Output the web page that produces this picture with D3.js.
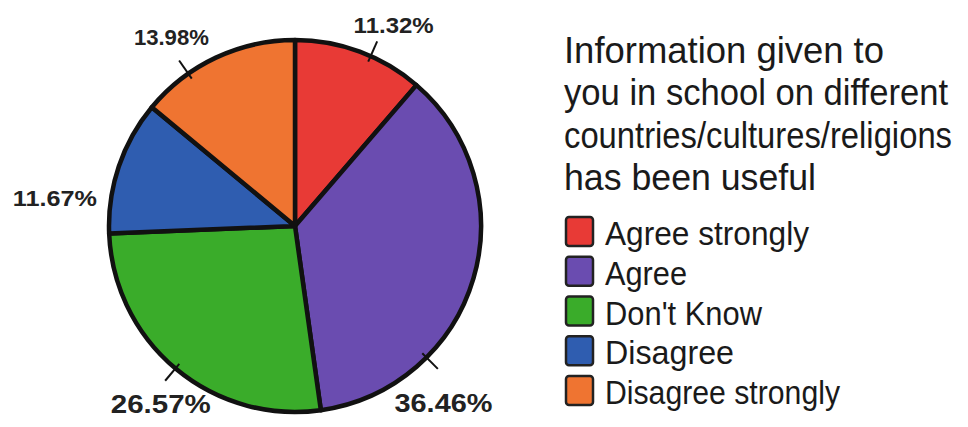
<!DOCTYPE html>
<html>
<head>
<meta charset="utf-8">
<script src="https://cdn.jsdelivr.net/npm/d3@7"></script>
<style>
  body { margin: 0; background: #fff; }
  svg { display: block; }
</style>
</head>
<body>
<div id="chart"></div>
<script>
var svgWidth = 968;
var svgHeight = 427;

// Data
var categories = ["Agree strongly", "Agree", "Don't Know", "Disagree", "Disagree strongly"];
var values = [11.32, 36.46, 26.57, 11.67, 13.98];
var labels = ["11.32%", "36.46%", "26.57%", "11.67%", "13.98%"];
var titleLines = ["Information given to", "you in school on different", "countries/cultures/religions", "has been useful"];

var colors = ["#e83a36", "#6a4cb0", "#3aac2a", "#2f5db0", "#ef7431"];

// layout
var cx = 295, cy = 226, radius = 186;
var labelAngles = [26, 140, 217, 277, 327];   // degrees, where the hand labels sit
var labelRadii = [225, 231, 223, 242, 227];
var tickAngles = [24, 135, 220, null, 325];
var labelWidths = [80, 98, 100, 84, 75];
var titleWidths = [320, 384, 388, 252];
var legendWidths = [204, 82, 157, 129, 235];

var svg = d3.select("#chart")
  .append("svg")
  .attr("width", svgWidth)
  .attr("height", svgHeight);

var pieGroup = svg.append("g")
  .attr("transform", `translate(${cx}, ${cy})`);

var pie = d3.pie().sort(null).value(d => d);
var arc = d3.arc().innerRadius(0).outerRadius(radius);

pieGroup.selectAll("path")
  .data(pie(values))
  .enter()
  .append("path")
  .attr("d", arc)
  .attr("fill", (d, i) => colors[i])
  .attr("stroke", "#111")
  .attr("stroke-width", 4.5)
  .attr("stroke-linejoin", "round");

// tick marks and percentage labels
var toRad = a => a * Math.PI / 180;

pieGroup.selectAll("line.tick")
  .data(tickAngles.filter(a => a !== null))
  .enter()
  .append("line")
  .attr("class", "tick")
  .attr("x1", a => Math.sin(toRad(a)) * (radius - 6))
  .attr("y1", a => -Math.cos(toRad(a)) * (radius - 6))
  .attr("x2", a => Math.sin(toRad(a)) * (radius + 16))
  .attr("y2", a => -Math.cos(toRad(a)) * (radius + 16))
  .attr("stroke", "#111")
  .attr("stroke-width", 2);

pieGroup.selectAll("text.pct")
  .data(labels)
  .enter()
  .append("text")
  .attr("class", "pct")
  .attr("x", (d, i) => Math.sin(toRad(labelAngles[i])) * labelRadii[i] - labelWidths[i] / 2)
  .attr("y", (d, i) => -Math.cos(toRad(labelAngles[i])) * labelRadii[i] + 9)
  .attr("textLength", (d, i) => labelWidths[i])
  .attr("lengthAdjust", "spacingAndGlyphs")
  .attr("font-family", "Liberation Sans Narrow, Liberation Sans, sans-serif")
  .attr("font-weight", "bold")
  .attr("font-size", (d, i) => (i === 1 || i === 2) ? "25px" : "22px")
  .attr("fill", "#222")
  .text(d => d);

// title (a bit taller than wide, like the hand lettering)
var titleY = d3.scalePoint()
  .domain(d3.range(titleLines.length))
  .range([63, 190]);

svg.selectAll("text.title")
  .data(titleLines)
  .enter()
  .append("text")
  .attr("class", "title")
  .attr("transform", (d, i) => `translate(564, ${titleY(i)}) scale(1, 1.14)`)
  .attr("textLength", (d, i) => titleWidths[i])
  .attr("lengthAdjust", "spacingAndGlyphs")
  .attr("font-family", "Liberation Sans, sans-serif")
  .attr("font-size", "32px")
  .attr("fill", "#1a1a1a")
  .text(d => d);

// legend
var legendY = d3.scalePoint()
  .domain(categories)
  .range([231, 390]);

var legend = svg.selectAll("g.legend")
  .data(categories)
  .enter()
  .append("g")
  .attr("class", "legend")
  .attr("transform", d => `translate(566, ${legendY(d)})`);

legend.append("rect")
  .attr("x", 0)
  .attr("y", -14)
  .attr("width", 27)
  .attr("height", 29)
  .attr("rx", 3)
  .attr("fill", (d, i) => colors[i])
  .attr("stroke", "#222")
  .attr("stroke-width", 2.5);

legend.append("text")
  .attr("x", 39)
  .attr("y", 14)
  .attr("textLength", (d, i) => legendWidths[i])
  .attr("lengthAdjust", "spacingAndGlyphs")
  .attr("font-family", "Liberation Sans Narrow, Liberation Sans, sans-serif")
  .attr("font-size", "33px")
  .attr("fill", "#1a1a1a")
  .text(d => d);
</script>
</body>
</html>
